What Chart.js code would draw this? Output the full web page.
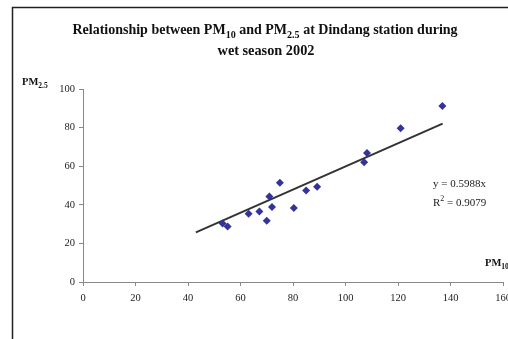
<!DOCTYPE html>
<html>
<head>
<meta charset="utf-8">
<script src="https://cdn.jsdelivr.net/npm/chart.js@4"></script>
<style>
  html, body { margin: 0; padding: 0; background: #fff; }
  canvas { display: block; }
</style>
</head>
<body>
<canvas id="chart" width="508" height="339"></canvas>
<script>
// PM10 / PM2.5 pairs, Dindang station, wet season 2002
var pm10 = [53.2, 55.1, 63.1, 67.2, 70.0, 71.0, 72.0, 75.0, 80.3, 85.0, 89.2, 107.1, 108.2, 121.0, 136.9];
var pm25 = [30.3, 28.7, 35.3, 36.5, 31.8, 44.3, 38.9, 51.4, 38.4, 47.4, 49.3, 62.1, 66.9, 79.6, 91.2];

// linear trend through the origin
var slope = 0.5988;
var rSquared = 0.9079;
var trendFrom = 43;
var trendTo = 137;

var xTicks = [0, 20, 40, 60, 80, 100, 120, 140, 160];
var yTicks = [0, 20, 40, 60, 80, 100];

var SERIF = '"Liberation Serif", "Times New Roman", serif';

var points = pm10.map(function(x, i) { return { x: x, y: pm25[i] }; });
var trend = [trendFrom, trendTo].map(function(x) { return { x: x, y: slope * x }; });

// draws a run of text pieces, some of them subscript / superscript
function richText(ctx, parts, x, y, size, bold, align) {
  var weight = bold ? 'bold ' : '';
  var widths = parts.map(function(p) {
    ctx.font = weight + (p.sub || p.sup ? size * 0.72 : size) + 'px ' + SERIF;
    return ctx.measureText(p.t).width;
  });
  var total = widths.reduce(function(a, b) { return a + b; }, 0);
  var cx = align === 'center' ? x - total / 2 : x;
  ctx.textAlign = 'left';
  ctx.textBaseline = 'alphabetic';
  parts.forEach(function(p, i) {
    var dy = p.sub ? size * 0.25 : (p.sup ? -size * 0.45 : 0);
    ctx.font = weight + (p.sub || p.sup ? size * 0.72 : size) + 'px ' + SERIF;
    ctx.fillText(p.t, cx, y + dy);
    cx += widths[i];
  });
}

var decorations = {
  id: 'decorations',
  afterDraw: function(chart) {
    var ctx = chart.ctx;
    ctx.save();

    // outer frame
    ctx.strokeStyle = '#222';
    ctx.lineWidth = 1.5;
    ctx.beginPath();
    ctx.moveTo(12.5, 339);
    ctx.lineTo(12.5, 7.5);
    ctx.lineTo(508, 7.5);
    ctx.stroke();

    ctx.fillStyle = '#111';
    richText(ctx, [
      { t: 'Relationship between PM' }, { t: '10', sub: true },
      { t: ' and PM' }, { t: '2.5', sub: true },
      { t: ' at Dindang station during' }
    ], 265, 34, 14, true, 'center');
    richText(ctx, [{ t: 'wet season 2002' }], 266, 55, 14.3, true, 'center');

    // axis titles
    richText(ctx, [{ t: 'PM' }, { t: '2.5', sub: true }], 22, 85, 10.5, true, 'left');
    richText(ctx, [{ t: 'PM' }, { t: '10', sub: true }], 485, 266, 10.5, true, 'left');

    // trend equation
    ctx.fillStyle = '#222';
    richText(ctx, [{ t: 'y = ' + slope + 'x' }], 433, 187, 11, false, 'left');
    richText(ctx, [{ t: 'R' }, { t: '2', sup: true }, { t: ' = ' + rSquared }], 433, 206, 11, false, 'left');

    ctx.restore();
  }
};

new Chart(document.getElementById('chart'), {
  type: 'scatter',
  data: {
    datasets: [{
      data: points,
      pointStyle: 'rectRot',
      pointRadius: 4,
      pointHoverRadius: 4,
      backgroundColor: '#333399',
      borderColor: '#333399',
      borderWidth: 0
    }, {
      type: 'line',
      data: trend,
      borderColor: '#333333',
      borderWidth: 2,
      pointRadius: 0,
      fill: false
    }]
  },
  options: {
    responsive: false,
    animation: false,
    events: [],
    layout: { padding: { top: 89, right: 5, bottom: 0, left: 0 } },
    plugins: {
      legend: { display: false },
      tooltip: { enabled: false }
    },
    scales: {
      x: {
        type: 'linear',
        min: 0,
        max: 160,
        afterBuildTicks: function(scale) {
          scale.ticks = xTicks.map(function(v) { return { value: v }; });
        },
        afterFit: function(scale) {
          scale.height = 57;
          scale.paddingLeft = 0;
          scale.paddingRight = 0;
        },
        border: { color: '#888', width: 1 },
        grid: { drawOnChartArea: false, color: '#888', tickLength: 4 },
        ticks: {
          color: '#222',
          padding: 6,
          maxRotation: 0,
          font: { family: SERIF, size: 10.5 }
        }
      },
      y: {
        type: 'linear',
        min: 0,
        max: 100,
        afterBuildTicks: function(scale) {
          scale.ticks = yTicks.map(function(v) { return { value: v }; });
        },
        afterFit: function(scale) {
          scale.width = 83;
          scale.paddingTop = 0;
          scale.paddingBottom = 0;
        },
        border: { color: '#888', width: 1 },
        grid: { drawOnChartArea: false, color: '#888', tickLength: 4 },
        ticks: {
          color: '#222',
          padding: 4,
          font: { family: SERIF, size: 10.5 }
        }
      }
    }
  },
  plugins: [decorations]
});
</script>
</body>
</html>
